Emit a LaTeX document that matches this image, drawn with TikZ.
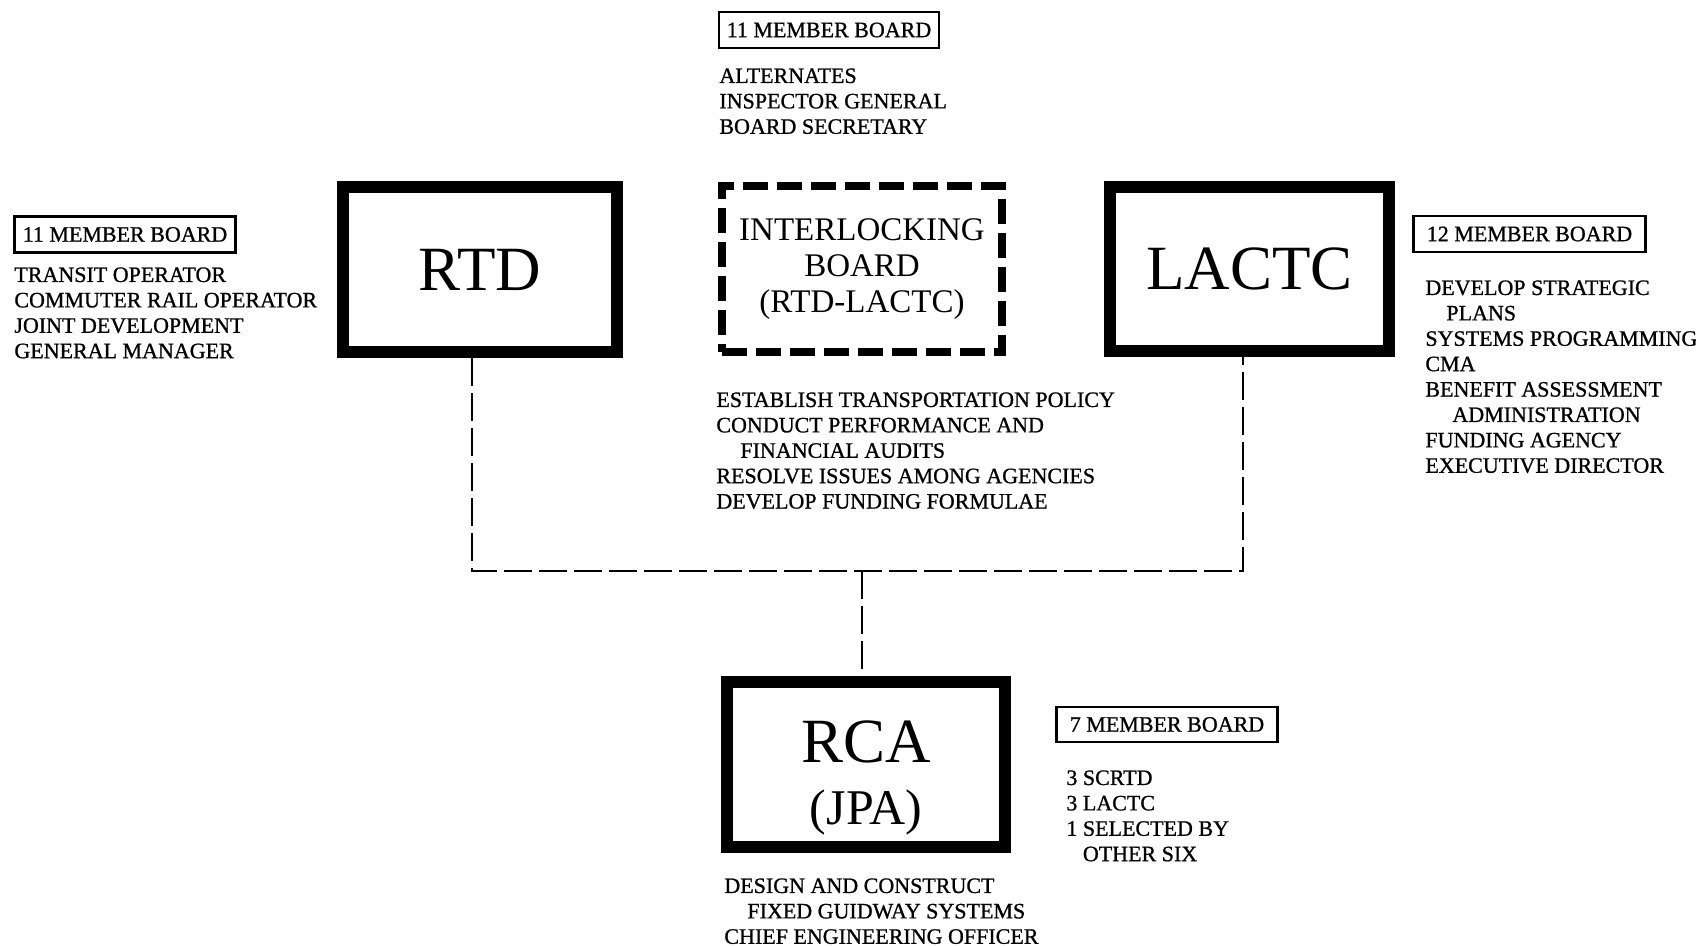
\documentclass[tikz,border=0pt]{standalone}
\usepackage{fontspec}
\setmainfont{Liberation Serif}
\newfontfamily\dutyfont[FakeBold=0.9]{Liberation Serif}
\tikzset{
  agency/.style={draw, line width=6pt, minimum width=137pt, minimum height=82.5pt, inner sep=0pt, font=\fontsize{31.5}{33}\selectfont},
  council/.style={draw, line width=4pt, dash pattern=on 12.5pt off 4.5pt, minimum width=140pt, minimum height=83pt, inner sep=0pt, align=center, font=\fontsize{16.5}{18}\selectfont},
  boardtag/.style={draw, line width=1.3pt, minimum height=18pt, inner sep=0pt, font=\dutyfont\fontsize{11}{12.7}\selectfont},
  duties/.style={anchor=north west, inner sep=0pt, align=left, font=\dutyfont\fontsize{11}{12.7}\selectfont},
  link/.style={line width=1.35pt, dash pattern=on 14pt off 3.5pt},
}
\begin{document}
\begin{tikzpicture}[x=0.5pt, y=-0.5pt]
  \useasboundingbox (0,0) rectangle (1696,946);
  % Agencies
  \node[agency] (RTD) at (480,269.5) {RTD};
  \node[council] (ILB) at (862,269) {INTERLOCKING\\BOARD\\(RTD-LACTC)};
  \node[agency, minimum width=139.5pt, minimum height=82pt] (LACTC) at (1249.5,269) {LACTC};
  \node[agency, minimum width=139pt] (RCA) at (866,764.5) {};
  \node[anchor=base, inner sep=0pt, font=\fontsize{31.5}{33}\selectfont] (rcaname) at (866,762) {RCA};
  \node[anchor=base, inner sep=0pt, font=\fontsize{25}{27}\selectfont] (rcajpa) at (866,824) {(JPA)};
  % Dashed links
  \coordinate (jl) at (472,571);
  \coordinate (jr) at (1243,571);
  \coordinate (jc) at (862,571);
  \draw[link] (RTD.south -| jl) -- (jl) -- (jr) -- (LACTC.south -| jr);
  \draw[link] (jc) -- (RCA.north -| jc);
  % Interlocking board
  \node[boardtag, minimum width=110pt] (ilbboard) at (829,30) {11 MEMBER BOARD};
  \node[duties] (ilbstaff) at (719,68) {ALTERNATES\\INSPECTOR GENERAL\\BOARD SECRETARY};
  \node[duties] (ilblist) at (716,392) {ESTABLISH TRANSPORTATION POLICY\\CONDUCT PERFORMANCE AND\\\hspace*{12pt}FINANCIAL AUDITS\\RESOLVE ISSUES AMONG AGENCIES\\DEVELOP FUNDING FORMULAE};
  % RTD
  \node[boardtag, minimum width=110.5pt] (rtdboard) at (125,234.5) {11 MEMBER BOARD};
  \node[duties] (rtdlist) at (14,267) {TRANSIT OPERATOR\\COMMUTER RAIL OPERATOR\\JOINT DEVELOPMENT\\GENERAL MANAGER};
  % LACTC
  \node[boardtag, minimum width=116pt] (lactcboard) at (1529.5,234) {12 MEMBER BOARD};
  \node[duties] (lactclist) at (1425,280) {DEVELOP STRATEGIC\\\hspace*{10.5pt}PLANS\\SYSTEMS PROGRAMMING\\CMA\\BENEFIT ASSESSMENT\\\hspace*{13.5pt}ADMINISTRATION\\FUNDING AGENCY\\EXECUTIVE DIRECTOR};
  % RCA
  \node[boardtag, minimum width=110.5pt, minimum height=17.5pt] (rcaboard) at (1167,724.5) {7 MEMBER BOARD};
  \node[duties] (rcamembers) at (1066,770) {3 SCRTD\\3 LACTC\\1 SELECTED BY\\\phantom{1 }OTHER SIX};
  \node[duties] (rcalist) at (724,878) {DESIGN AND CONSTRUCT\\\hspace*{11.5pt}FIXED GUIDWAY SYSTEMS\\CHIEF ENGINEERING OFFICER};
\end{tikzpicture}
\end{document}
